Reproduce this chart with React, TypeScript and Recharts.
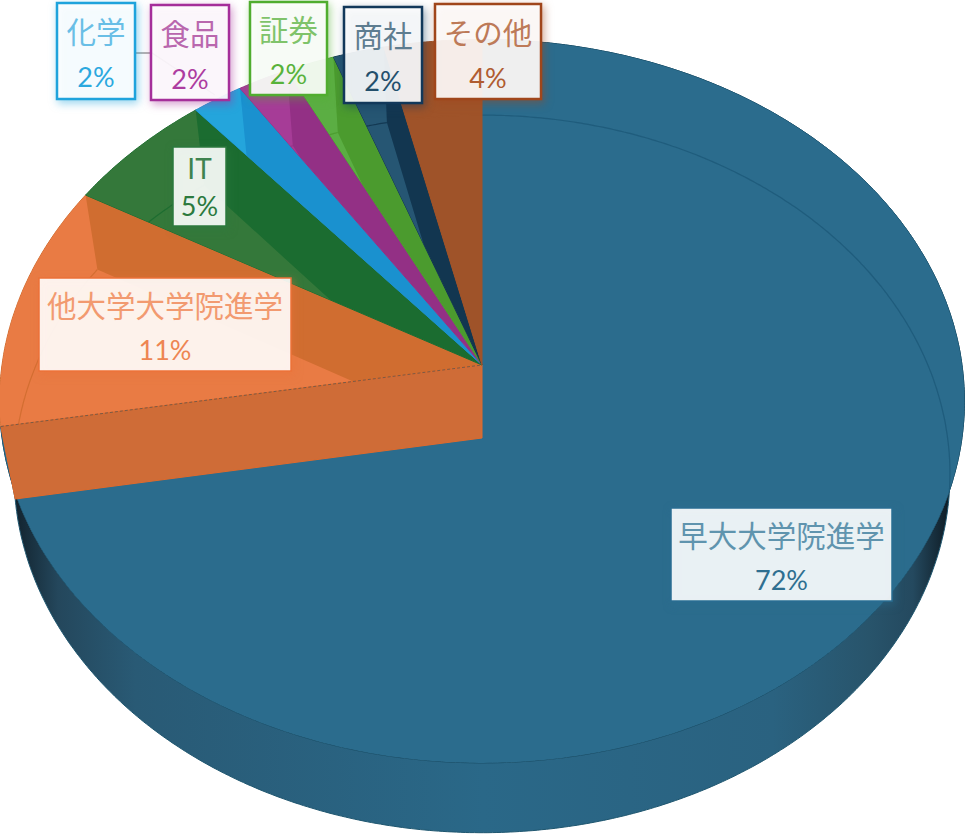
import { Pie, PieChart } from 'recharts';

const CATEGORIES = ['早大大学院進学', '他大学大学院進学', 'IT', '化学', '食品', '証券', '商社', 'その他'];
const SHARES = [72.3, 11.0, 5.6, 1.9, 1.9, 1.8, 1.9, 3.6];
const PERCENT_LABELS = ['72%', '11%', '5%', '2%', '2%', '2%', '2%', '4%'];

const BASE_COLORS = ['#2B6C8D', '#D06D30', '#1B6C30', '#1A91CF', '#933085', '#4B9B2E', '#123650', '#9F5329'];
const LIGHT_COLORS = ['#2B6C8D', '#E97B44', '#34783A', '#24A5DC', '#A63C97', '#5BAE43', '#265673', '#9F5329'];
const BORDER_COLORS = ['#2A6E92', '#EC7238', '#2C7A3E', '#1FA3DC', '#A52F9A', '#50AD2F', '#12385A', '#A0461B'];
const TEXT_COLORS = ['#5F94AE', '#F29A70', '#3F8350', '#69BEE6', '#B967AE', '#7FC36A', '#5E7D90', '#BD7A58'];
const NUMBER_COLORS = ['#2F6F90', '#EE8552', '#2C7A3E', '#2BA8DE', '#AD3CA0', '#58B23A', '#234F6C', '#B05C30'];

// label boxes: left, top, right, bottom
const LABEL_BOXES = [
  [671, 508, 892, 601],
  [39, 278, 291, 371],
  [173, 147, 226, 226],
  [57, 3, 135, 99],
  [151, 5, 229, 100],
  [250, 2, 327, 95],
  [344, 7, 422, 103],
  [435, 4, 541, 99],
];
const THICK_BORDERS = [false, false, false, true, true, true, true, true];

const tableData = CATEGORIES.map((name, idx) => ({ name, value: SHARES[idx], idx, fill: BASE_COLORS[idx] }));

const TILT = 0.746;
const PERSPECTIVE = 0.1;
const DEPTH = 73;
const FLOOR_SCALE_X = 0.97;
const FLOOR_SCALE_Y = 0.992;
const FONT = 'Lato, "Noto Sans CJK JP", sans-serif';

const rimPoint = (p: any, angle: number, floor = false) => {
  const t = ((90 - angle) * Math.PI) / 180;
  const u = Math.sin(t);
  const v = -Math.cos(t);
  const w = 1 / (1 - PERSPECTIVE * v);
  const r = p.outerRadius;
  const x = p.cx + (floor ? FLOOR_SCALE_X : 1) * r * u * w;
  const y = p.cy + (floor ? FLOOR_SCALE_Y : 1) * r * TILT * v * w + (floor ? DEPTH : 0);
  return [x, y];
};

const arcPoints = (p: any, from: number, to: number, floor = false) => {
  const n = Math.max(2, Math.ceil(Math.abs(to - from) * 2));
  const out = [];
  for (let i = 0; i <= n; i++) out.push(rimPoint(p, from + ((to - from) * i) / n, floor));
  return out;
};

const toPath = (pts: number[][], close = true) =>
  pts.map((q, i) => `${i ? 'L' : 'M'}${q[0].toFixed(1)} ${q[1].toFixed(1)}`).join(' ') + (close ? ' Z' : '');

const SliceShape = (props: any) => {
  const { cx, cy, startAngle, endAngle, idx } = props;
  const apex = [cx, cy];
  const floorApex = [cx, cy + DEPTH];
  const topArc = arcPoints(props, startAngle, endAngle);
  const floorArc = arcPoints(props, startAngle, endAngle, true);
  const topPath = toPath([apex, ...topArc]);
  const bodyPath = toPath([floorApex, floorArc[0], ...topArc, floorArc[floorArc.length - 1]]);
  const clipId = `top-${idx}`;

  return (
    <g>
      <defs>
        <clipPath id={clipId}>
          <path d={topPath} />
        </clipPath>
        {idx === 0 && (
          <linearGradient id="wall" gradientUnits="userSpaceOnUse" x1={0} y1={0} x2={966} y2={0}>
            <stop offset="0.01" stopColor="#101F29" />
            <stop offset="0.06" stopColor="#24475C" />
            <stop offset="0.14" stopColor="#295A75" />
            <stop offset="0.5" stopColor="#2A6888" />
            <stop offset="0.8" stopColor="#2A6280" />
            <stop offset="0.9" stopColor="#28546B" />
            <stop offset="0.945" stopColor="#24495F" />
            <stop offset="0.98" stopColor="#101F29" />
          </linearGradient>
        )}
      </defs>
      {idx === 0 && (
        <path
          d={toPath([...topArc, ...[...floorArc].reverse()])}
          fill="url(#wall)"
          stroke="#1E566F"
          strokeWidth={1}
        />
      )}
      <path d={topPath} fill={BASE_COLORS[idx]} stroke={idx === 0 ? '#1F5570' : BASE_COLORS[idx]} strokeWidth={1} />
      <g clipPath={`url(#${clipId})`}>
        <path d={bodyPath} fill={LIGHT_COLORS[idx]} />
        <path d={toPath(floorArc, false)} fill="none" stroke={BASE_COLORS[idx]} strokeOpacity={0.9} strokeWidth={1.2} />
        {idx === 0 && <path d={toPath(floorArc, false)} fill="none" stroke="#1F5C7C" strokeWidth={1.2} />}
      </g>
      {idx === 1 && (
        <g>
          <path
            d={toPath([topArc[0], apex, floorApex, floorArc[0]])}
            fill="#CF6C37"
            stroke="#DF6A2C"
            strokeWidth={1}
          />
          <path
            d={toPath([topArc[0], apex], false)}
            fill="none"
            stroke="#7A5A45"
            strokeWidth={1}
            strokeDasharray="3 2"
          />
        </g>
      )}
    </g>
  );
};

const SliceLabel = (props: any) => {
  const { idx } = props;
  const [left, top, right, bottom] = LABEL_BOXES[idx];
  const mid = (left + right) / 2;
  const h = bottom - top;
  const isLatin = idx === 2;
  return (
    <g>
      {idx === 3 && (
        <polyline
          points={`${right},${top + 50} 152,${top + 50} 215,95`}
          fill="none"
          stroke="#9A9A9A"
          strokeWidth={1.5}
        />
      )}
      <rect
        x={left}
        y={top}
        width={right - left}
        height={h}
        fill="#FFFFFF"
        fillOpacity={0.9}
        stroke={BORDER_COLORS[idx]}
        strokeWidth={THICK_BORDERS[idx] ? 2.5 : 1.5}
        style={{ filter: `drop-shadow(2px 3px 4px ${BORDER_COLORS[idx]}80)` }}
      />
      <text
        x={mid}
        y={top + h * (isLatin ? 0.27 : 0.3)}
        textAnchor="middle"
        dominantBaseline="central"
        fontFamily={FONT}
        fontSize={isLatin ? 28 : 29.5}
        fill={TEXT_COLORS[idx]}
      >
        {CATEGORIES[idx]}
      </text>
      <text
        x={mid}
        y={top + h * (isLatin ? 0.735 : 0.77)}
        textAnchor="middle"
        dominantBaseline="central"
        fontFamily={FONT}
        fontSize={27}
        fill={NUMBER_COLORS[idx]}
      >
        {PERCENT_LABELS[idx]}
      </text>
    </g>
  );
};

export default function App() {
  return (
    <div style={{ position: 'absolute', left: 0, top: 0, width: 966, height: 836, background: '#fff', overflow: 'hidden' }}>
      <PieChart width={966} height={836} margin={{ top: 0, right: 0, bottom: 0, left: 0 }}>
        <Pie
          data={tableData}
          dataKey="value"
          nameKey="name"
          cx={482}
          cy={365}
          outerRadius={480}
          startAngle={90}
          endAngle={-270}
          stroke="none"
          shape={SliceShape}
          label={SliceLabel}
          labelLine={false}
          isAnimationActive={false}
        />
      </PieChart>
    </div>
  );
}
